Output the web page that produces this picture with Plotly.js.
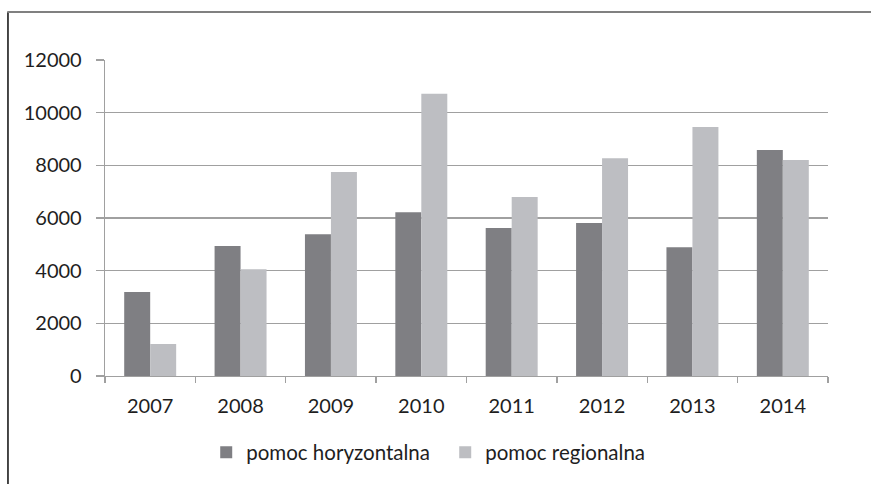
<!DOCTYPE html>
<html>
<head>
<meta charset="utf-8">
<script src="https://cdn.plot.ly/plotly-3.0.1.min.js"></script>
<style>
  html, body { margin: 0; padding: 0; background: #fff; }
  #chart { width: 871px; height: 484px; }
</style>
</head>
<body>
<div id="chart"></div>
<script>
const years = ['2007', '2008', '2009', '2010', '2011', '2012', '2013', '2014'];
const horizontal = [3190, 4935, 5380, 6215, 5620, 5810, 4890, 8585];
const regional = [1215, 4050, 7750, 10720, 6800, 8270, 9460, 8200];
const seriesNames = ['pomoc horyzontalna', 'pomoc regionalna'];
const yTicks = [0, 2000, 4000, 6000, 8000, 10000, 12000];

const font = { family: 'Lato, "Open Sans", sans-serif', size: 20, color: '#1e1e1e' };

const traces = [
  { type: 'bar', name: seriesNames[0], x: years, y: horizontal,
    marker: { color: '#7f7f83', line: { width: 0 } } },
  { type: 'bar', name: seriesNames[1], x: years, y: regional,
    marker: { color: '#bdbec2', line: { width: 0 } } }
];

const layout = {
  width: 871, height: 484,
  margin: { l: 105, r: 43, t: 60, b: 108 },
  paper_bgcolor: '#ffffff', plot_bgcolor: '#ffffff',
  font: font,
  barmode: 'group',
  bargap: 0.425,
  bargroupgap: 0,
  showlegend: true,
  legend: {
    orientation: 'h', x: 0.14, xanchor: 'left', y: -0.242, yanchor: 'middle',
    font: { family: font.family, size: 20.5, color: font.color },
    entrywidth: 194, entrywidthmode: 'pixels', itemwidth: 30,
    bgcolor: 'rgba(0,0,0,0)'
  },
  xaxis: {
    type: 'category', tickson: 'boundaries', ticks: 'outside', ticklen: 6,
    tickcolor: '#a0a0a0', tickwidth: 1.3,
    showline: true, linecolor: '#a0a0a0', linewidth: 1.3,
    showgrid: false, zeroline: false, ticklabelstandoff: 12,
    fixedrange: true
  },
  yaxis: {
    range: [0, 12000], tickvals: yTicks, ticktext: yTicks.map(String),
    ticks: 'outside', ticklen: 8, tickcolor: '#a0a0a0', tickwidth: 1.3,
    showline: true, linecolor: '#a0a0a0', linewidth: 1.3,
    showgrid: true, gridcolor: '#a0a0a0', gridwidth: 1.3,
    zeroline: false, ticklabelstandoff: 10, fixedrange: true
  },
  shapes: [
    { type: 'line', xref: 'paper', yref: 'paper', x0: -0.1342, x1: -0.1342, y0: 1.1519, y1: -0.35,
      line: { color: '#1a1a1a', width: 1.6 } },
    { type: 'line', xref: 'paper', yref: 'paper', x0: -0.1352, x1: 1.07, y0: 1.1519, y1: 1.1519,
      line: { color: '#808080', width: 2 } }
  ]
};

Plotly.newPlot('chart', traces, layout, { displayModeBar: false, staticPlot: true });
</script>
</body>
</html>
